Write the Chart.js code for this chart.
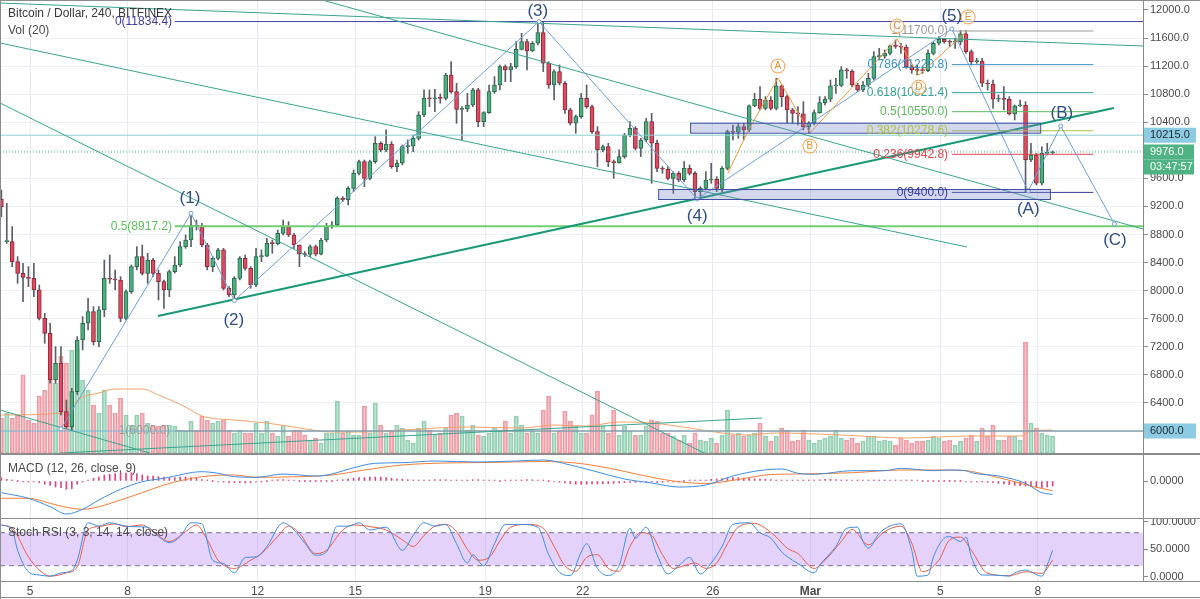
<!DOCTYPE html>
<html lang="en">
<head>
<meta charset="UTF-8">
<title>Bitcoin / Dollar, 240, BITFINEX</title>
<script src="https://cdn.jsdelivr.net/npm/chart.js"></script>
<style>
    html, body { margin: 0; padding: 0; background: #fff; }
    #wrap { position: relative; width: 1200px; height: 599px; overflow: hidden; }
    .pane { position: absolute; left: 0; }
    .sep { position: absolute; left: 0; width: 1200px; background: #8c8c8c; }
</style>
<script>
// ---- candles, 4h, Feb 4 04:00 .. Mar 8 ----
const open = [9300,8698,8698,8413,8247,8190,8176,8010,7606,7392,6727,6965,6276,6062,6561,7297,7535,7701,7273,7725,
8176,8162,8152,7606,7986,8342,8485,8247,8437,8247,8128,8010,8271,8366,8627,8722,8936,8912,8651,8342,
8461,8580,8033,7938,8176,8461,8318,8081,8485,8490,8674,8670,8817,8912,8793,8651,8522,8515,8627,8520,
8722,8912,8936,9316,9292,9458,9672,9838,9601,9838,10100,10005,10090,9767,9815,10052,10060,10171,10503,10741,
10735,10745,10740,11073,10836,10584,10590,10646,10860,10408,10537,10836,10931,11192,11145,11192,11439,11548,11415,11525,
11677,11240,10931,11121,10955,10575,10385,10480,10741,10622,10266,10005,10052,9838,9825,9910,10218,10313,10028,10147,
10408,10100,9743,9730,9601,9672,9577,9743,9672,9411,9458,9577,9585,9458,9743,10266,10260,10337,10290,10632,
10727,10598,10717,10598,10917,10765,10575,10527,10520,10337,10385,10537,10679,10727,10917,10925,11145,11130,10931,10860,
10931,11026,11335,11340,11382,11487,11480,11470,11192,11145,11140,11135,11382,11525,11582,11548,11540,11545,11658,11406,
11263,11270,10955,10945,10727,10730,10725,10518,10632,10640,9862,9933,9530,9957,9965];
const high = [9434,9244,8912,8484,8390,8342,8390,8081,7677,7535,7202,7202,6442,6608,7345,7630,7891,7772,7772,8437,
8508,8294,8200,8010,8366,8627,8651,8532,8461,8294,8152,8294,8485,8698,8793,9102,9007,8960,8674,8485,
8603,8603,8057,8200,8485,8508,8342,8603,8580,8746,8722,8864,9007,8983,8817,8651,8556,8651,8651,8746,
8960,8983,9340,9340,9482,9720,9862,9862,9862,10195,10123,10290,10123,9862,10076,10147,10218,10551,10860,10860,
10869,10803,11097,11263,10955,10622,10812,10883,10883,10551,10931,11050,11216,11216,11240,11548,11667,11582,11548,11810,
11834,11263,11145,11216,10978,10598,10503,10812,10931,10646,10337,10076,10100,9862,10005,10242,10408,10337,10171,10456,
10527,10147,9767,9767,9696,9696,9838,9791,9696,9482,9696,9815,9624,9767,10290,10361,10385,10385,10646,10812,
10907,10765,10765,11026,10931,10788,10598,10622,10693,10408,10575,10765,10765,11002,11026,11192,11168,11145,10955,10978,
11097,11406,11453,11430,11501,11572,11525,11501,11216,11216,11192,11430,11548,11620,11596,11572,11596,11705,11705,11430,
11311,11311,11002,11002,10788,10907,10765,10646,10717,10693,10100,9957,10052,10100,9990];
const low = [9054,8674,8342,8104,7843,8057,7915,7582,7250,6680,6680,6228,6038,6015,6520,7155,7440,7226,7202,7630,
8104,8010,7558,7582,7962,8295,8223,8104,8200,7867,7748,7915,8250,8342,8603,8627,8864,8627,8295,8271,
8437,8010,7915,7843,8152,8294,8033,8057,8413,8485,8532,8651,8793,8770,8603,8342,8485,8485,8494,8508,
8698,8888,8912,9268,9221,9411,9648,9482,9577,9815,9981,9981,9743,9696,9791,9957,9981,10147,10480,10622,
10551,10670,10717,10812,10385,10147,10551,10622,10337,10337,10527,10812,10860,10978,10978,11168,11430,11145,11406,11501,
11121,10883,10717,10931,10527,10361,10242,10456,10598,10242,9767,9981,9767,9601,9815,9886,10195,10005,9910,10123,
9530,9696,9672,9577,9387,9553,9553,9648,9316,9302,9435,9530,9411,9411,9720,10147,10171,10147,10266,10622,
10575,10575,10575,10575,10622,10385,10385,10361,10290,10242,10361,10527,10646,10693,10812,10907,11026,10907,10836,10836,
10907,11002,11287,11311,11358,11453,11382,11168,11097,11073,11097,11121,11358,11501,11525,11477,11453,11501,11382,11216,
11240,10907,10860,10598,10693,10575,10503,10432,10622,9400,9838,9506,9506,9933,9947];
const close = [9197,8698,8413,8247,8190,8176,8010,7606,7392,6727,6965,6276,6062,6561,7297,7535,7701,7273,7725,8176,
8162,8152,7606,7986,8342,8485,8247,8437,8247,8128,8010,8271,8366,8627,8722,8936,8912,8651,8342,8461,
8580,8033,7938,8176,8461,8318,8081,8485,8490,8674,8670,8817,8912,8793,8651,8522,8515,8627,8520,8722,
8912,8936,9316,9292,9458,9672,9838,9601,9838,10100,10005,10090,9767,9815,10052,10060,10171,10503,10741,10735,
10745,10740,11073,10836,10584,10590,10646,10860,10408,10537,10836,10931,11192,11145,11192,11439,11548,11415,11525,11677,
11240,10931,11121,10955,10575,10385,10480,10741,10622,10266,10005,10052,9838,9825,9910,10218,10313,10028,10147,10408,
10100,9743,9730,9601,9672,9577,9743,9672,9411,9458,9577,9585,9458,9743,10266,10260,10337,10290,10632,10727,
10598,10717,10598,10917,10765,10575,10527,10520,10337,10385,10537,10679,10727,10917,10925,11145,11130,10931,10860,10931,
11026,11335,11340,11382,11487,11480,11470,11192,11145,11140,11135,11382,11525,11582,11548,11540,11545,11658,11406,11263,
11270,10955,10945,10727,10730,10725,10518,10632,10640,9862,9933,9530,9957,9965,9976];
const volume = [35,40,35,38,78,33,30,57,63,75,70,97,90,103,105,73,63,48,40,63,
48,40,55,38,28,38,40,30,28,27,28,28,27,23,22,32,23,37,33,30,
32,33,23,20,23,20,20,30,20,32,20,17,28,17,23,23,18,13,15,10,
20,20,52,20,22,18,18,47,20,50,28,20,22,28,25,13,10,25,32,23,
18,20,25,38,40,37,23,28,18,17,20,25,23,32,20,37,28,20,22,20,
43,57,20,23,42,32,27,20,20,38,62,27,20,43,18,27,22,18,18,27,
33,32,20,20,17,13,18,10,20,13,12,15,10,18,43,18,20,17,18,20,
30,17,12,17,25,23,12,13,23,13,10,13,15,17,23,15,13,15,10,12,
17,17,12,13,12,8,15,13,10,12,12,13,17,15,12,13,8,12,15,18,
12,25,17,28,13,13,17,17,13,111,30,25,20,18,17];
// Vol (20) moving average, read at these candles
const volMaIdx = [0,11,15,18,21,26,29,34,37,43,49,55,61,67,74,86,96,102,108,114,120,127,133,138,143,155,167,179,188,190,194];
const volMa    = [38,40,56,60,64,64,58,46,37,33,30,25,21,21,23,26,25,28,27,31,30,25,20,18,20,18,15,17,17,22,23];

// ---- MACD (12, 26, close, 9) ----
const macdIdx  = [0,5,9,12,15,18,22,26,30,37,40,43,47,52,55,58,61,64,69,74,80,88,95,100,105,110,115,120,125,130,135,140,144,147,150,157,163,166,172,175,178,179,184,189,192,194];
const macdLine = [-117,-173,-257,-330,-283,-190,-83,-7,27,93,77,43,37,70,60,50,70,117,177,183,200,190,200,210,160,90,20,-20,-60,-40,50,105,120,77,67,103,103,127,103,110,103,83,50,-23,-117,-133];
const sigIdx   = [0,5,9,12,15,18,22,26,30,37,43,47,55,61,67,74,82,90,100,106,112,118,124,130,136,142,147,157,166,173,178,182,187,190,194];
const sigLine  = [-173,-173,-223,-263,-283,-257,-190,-117,-40,43,60,37,43,60,110,160,180,185,195,180,130,60,0,-25,15,65,70,83,110,110,103,60,-7,-50,-97];
const macdHist = [33,17,7,0,-3,-3,-7,-17,-33,-43,-60,-67,-83,-77,-33,-10,7,27,40,60,
67,73,83,80,83,73,60,50,50,43,40,33,33,40,40,33,27,13,7,0,
-7,-10,-17,-17,-17,-20,-17,-10,-7,0,7,13,13,10,7,0,0,0,0,0,
0,0,7,13,20,27,33,33,40,40,40,33,27,20,20,13,10,7,7,10,
13,13,13,10,7,7,10,13,13,10,7,3,0,3,7,7,10,13,13,10,
7,0,-7,-13,-20,-27,-33,-33,-33,-30,-30,-27,-27,-23,-20,-17,-13,-13,-10,-7,
-10,-13,-13,-10,-7,-3,0,3,3,7,10,17,20,23,30,33,33,30,27,23,
20,17,13,10,7,3,3,5,5,7,10,13,17,17,13,10,7,5,5,3,
3,3,5,5,5,3,3,3,3,3,0,0,0,0,0,0,0,0,-3,-3,
-7,-10,-13,-17,-23,-30,-37,-43,-47,-50,-57,-60,-67,-60,-50];

// ---- Stoch RSI (3, 3, 14, 14, close) ----
const stochKIdx = [0,2,3,5,7,9,11,13,14,16,18,20,22,24,27,29,31,33,35,37,39,41,43,45,47,49,52,54,56,58,60,62,64,66,68,71,
                   74,76,78,80,82,84,86,87,89,91,93,96,99,101,103,105,107,108,110,112,114,116,117,119,121,123,125,127,129,131,133,135,138,140,142,144,146,
                   147,150,151,154,156,158,159,160,162,164,166,168,169,171,172,174,175,177,178,179,181,183,186,187,189,192,193,194];
const stochK    = [94,85,48,9,3,1,7,11,30,98,92,98,94,91,90,73,62,73,98,96,30,24,7,35,36,55,98,85,61,39,45,92,92,98,85,90,
                   48,75,98,92,95,60,25,40,20,60,95,95,90,40,8,2,45,60,15,2,20,88,70,90,40,5,20,35,5,25,55,95,98,80,70,45,30,
                   24,7,21,55,88,90,64,52,79,92,96,48,1,3,36,70,73,64,72,36,3,3,1,7,12,1,21,48];
const stochDIdx = [0,2,5,7,9,12,14,16,18,21,23,26,28,31,34,36,38,40,43,46,48,51,53,55,58,60,63,65,68,71,
                   74,76,78,80,82,84,86,88,90,92,94,97,100,102,104,106,108,110,112,114,116,118,120,122,124,126,128,130,132,134,136,139,141,143,145,
                   147,150,152,155,157,160,163,166,168,170,173,175,177,179,182,186,189,192,194];
const stochD    = [94,88,36,12,1,7,18,85,91,96,91,94,82,64,82,94,67,30,15,30,42,73,92,79,42,48,85,94,91,85,
                   67,55,75,92,95,82,50,30,35,65,90,95,88,55,20,10,35,40,15,10,55,80,75,40,15,20,25,15,25,60,90,97,88,72,52,
                   42,15,30,64,86,58,82,92,61,9,30,67,72,48,6,2,9,6,30];

// ---- time axis ----
const dayTickIdx    = [5.29,23.29,47.29,65.29,89.29,107.29,131.29,149.29,173.29,191.29];
const dayTickLabels = ['5','8','12','15','19','22','26','Mar','5','8'];
const priceTicks = [6000,6400,6800,7200,7600,8000,8400,8800,9200,9600,10000,10400,10800,11200,11600,12000];

// ---- drawings (candle index, price) ----
const waveIdx   = [11,35,43,99.2,128.4,175.4,189.5,195.5,205.4];
const wavePrice = [6030,9102,7860,11834,9306,11729,9420,10346,8950];
const waveNames = ['(1)','(2)','(3)','(4)','(5)','(A)','(B)','(C)'];
const waveLabelIdx   = [34.8,42.9,99.0,128.4,175.4,189.5,195.7,205.5];
const waveLabelPrice = [9320,7582,11985,9064,11914,9164,10532,8722];
const subIdx   = [134.1,137.6,143.3,149.2,165.3,169.3,178.2];
const subPrice = [9677,10247,11030,10247,11586,11073,11700];
const subNames = ['A','B','C','D','E'];
const subLabelIdx   = [143.3,149.2,165.3,169.3,178.4];
const subLabelPrice = [11201,10061,11771,10900,11900];
// teal trend lines: [idx1, price1, idx2, price2]
const trendLines = [[-0.25,12099,210.7,11486],[59.2,12142,210.7,8878],[-0.25,11529,178.2,8622],
                    [-0.25,10674,130.8,5644],[-0.25,6299,27.4,5686],[10.8,5686,140.4,6185]];
const supportLine = [28.9,7639,205.3,10603];
const fibLevels = ['1','0.786','0.618','0.5','0.382','0.236','0'];
const fibPrices = [11700,11220.8,10821.4,10550,10278.6,9942.8,9400];
const fibColors = ['#9a9a9a','#3d93c6','#35a395','#5cb85c','#aec23f','#e0434f','#3b3b9f'];
const zones = [[127.1,191.7,10393,10251],[121.2,193.5,9448,9306]];
const lastPrice = 9976, markedLevel = 10215;

// ---- layout ----
const step = 5.419;            // px per candle
const xMin = -0.25, xMax = xMin + 1143 / step;
const AXIS_W = 57;

const upFill = '#4fae80', upLine = '#276b4b', dnFill = '#df4a5f', dnLine = '#88283a', wick = '#5b5e66';
const FONT = '"Liberation Sans", Arial, sans-serif';

function seg(a, color, width, dash) {
    return { type: 'line', data: [{x: a[0], y: a[1]}, {x: a[2], y: a[3]}], borderColor: color,
             borderWidth: width || 1, borderDash: dash || [], pointRadius: 0, fill: false, tension: 0 };
}
function pts(xs, ys) { return xs.map((x, i) => ({x: x, y: ys[i]})); }
function noPad(s) { s.paddingTop = 0; s.paddingBottom = 0; s.paddingLeft = 0; s.paddingRight = 0; }
function xAxis(showLabels) {
    return {
        type: 'linear', min: xMin, max: xMax, offset: false,
        grid: { color: '#e6ecf1', drawTicks: false, offset: false },
        border: { display: false },
        afterBuildTicks: s => { s.ticks = dayTickIdx.map(v => ({value: v})); },
        ticks: showLabels ? {
            padding: 3, color: '#4a4a4a', maxRotation: 0, autoSkip: false,
            font: c => ({ family: FONT, size: 12, weight: (c.tick && c.tick.label === 'Mar') ? 'bold' : 'normal' }),
            callback: (v, i) => dayTickLabels[i]
        } : { display: false },
        afterFit: s => { s.height = showLabels ? 18 : 0; noPad(s); }
    };
}
function yAxis(min, max, ticks, fmt, gridColor) {
    return {
        position: 'right', min: min, max: max,
        afterBuildTicks: s => { s.ticks = ticks.map(v => ({value: v})); },
        afterFit: s => { s.width = AXIS_W; noPad(s); },
        grid: { color: gridColor || 'transparent', tickColor: '#8a8a8a', tickLength: 5 },
        border: { display: true, color: '#8a8a8a' },
        ticks: { padding: 2, color: '#4a4a4a', font: { family: FONT, size: 11 }, callback: fmt }
    };
}
function text(ctx, s, x, y, color, font, align) {
    ctx.font = font; ctx.fillStyle = color; ctx.textAlign = align || 'center'; ctx.textBaseline = 'middle';
    ctx.fillText(s, x, y);
}

const mainOverlay = {
    id: 'mainOverlay',
    afterDatasetsDraw(chart) {
        const ctx = chart.ctx, X = chart.scales.x, Y = chart.scales.y;
        ctx.save();
        // zones
        zones.forEach(z => {
            const x1 = X.getPixelForValue(z[0]), x2 = X.getPixelForValue(z[1]);
            const y1 = Y.getPixelForValue(z[2]), y2 = Y.getPixelForValue(z[3]);
            ctx.fillStyle = 'rgba(120,134,200,0.32)'; ctx.fillRect(x1, y1, x2 - x1, y2 - y1);
            ctx.strokeStyle = '#3f4fa0'; ctx.lineWidth = 1; ctx.strokeRect(x1 + 0.5, y1 + 0.5, x2 - x1, y2 - y1);
        });
        // fib labels
        const fx = X.getPixelForValue(174.7);
        fibLevels.forEach((l, i) => text(ctx, l + '(' + fibPrices[i].toFixed(1) + ')', fx, Y.getPixelForValue(fibPrices[i]), fibColors[i], '12px ' + FONT, 'right'));
        const lx = X.getPixelForValue(31.5);
        text(ctx, '0(11834.4)', lx, Y.getPixelForValue(11834.4), '#3c3ca6', '12px ' + FONT, 'right');
        text(ctx, '0.5(8917.2)', lx, Y.getPixelForValue(8917.2), '#5cc25c', '12px ' + FONT, 'right');
        text(ctx, '1(6000.0)', lx - 2, Y.getPixelForValue(6000), '#9a9a9a', '12px ' + FONT, 'right');
        // wave labels
        waveNames.forEach((n, i) => text(ctx, n, X.getPixelForValue(waveLabelIdx[i]), Y.getPixelForValue(waveLabelPrice[i]), '#2f4d80', '17px ' + FONT));
        subNames.forEach((n, i) => {
            const x = X.getPixelForValue(subLabelIdx[i]), y = Y.getPixelForValue(subLabelPrice[i]);
            ctx.beginPath(); ctx.arc(x, y, 7, 0, Math.PI * 2);
            ctx.fillStyle = 'rgba(255,255,255,0.6)'; ctx.fill();
            ctx.strokeStyle = '#ef9a3c'; ctx.lineWidth = 1; ctx.stroke();
            text(ctx, n, x, y + 0.5, '#e8902c', '10px ' + FONT);
        });
        // titles
        text(ctx, 'Bitcoin / Dollar, 240, BITFINEX', 8, 14, '#3a3a3a', '12px ' + FONT, 'left');
        text(ctx, 'Vol (20)', 8, 31, '#4a4a4a', '12px ' + FONT, 'left');
        ctx.restore();
    },
    afterDraw(chart) {
        const ctx = chart.ctx, Y = chart.scales.y, x0 = chart.chartArea.right + 1;
        ctx.save();
        const box = (yc, s, bg, fg, w) => {
            ctx.fillStyle = bg; ctx.fillRect(x0, yc - 7.5, w, 15);
            text(ctx, s, x0 + 6, yc, fg, '11px ' + FONT, 'left');
        };
        const yl = Y.getPixelForValue(lastPrice);
        box(Y.getPixelForValue(markedLevel), markedLevel.toFixed(1), '#8dcbe2', '#1d2a33', 52);
        box(yl, lastPrice.toFixed(1), '#4fb383', '#ffffff', 50);
        box(yl + 15, '03:47:57', '#4fb383', '#ffffff', 50);
        box(Y.getPixelForValue(6000), '6000.0', '#8dcbe2', '#1d2a33', 52);
        ctx.restore();
    }
};

function paneTitle(label) {
    return { id: 'title_' + label.length, afterDatasetsDraw(chart) {
        chart.ctx.save(); text(chart.ctx, label, 8, 14, '#4a4a4a', '12px ' + FONT, 'left'); chart.ctx.restore();
    } };
}

window.onload = function () {
    Chart.defaults.animation = false;
    Chart.defaults.font.family = FONT;
    const idx = open.map((_, i) => i);
    const up = i => close[i] >= open[i];

    const main = [];
    // drawings on top
    main.push({ type: 'line', data: pts(subIdx, subPrice), borderColor: '#ef9a3c', borderWidth: 1, pointRadius: 0, tension: 0, fill: false });
    main.push({ type: 'line', data: pts(waveIdx, wavePrice), borderColor: '#6d9fd6', borderWidth: 1, tension: 0, fill: false,
                pointRadius: 2, pointBackgroundColor: '#fff', pointBorderColor: '#6d9fd6', pointBorderWidth: 1 });
    fibPrices.forEach((p, i) => main.push(seg([175.4, p, 201.5, p], fibColors[i])));
    main.push(seg(supportLine, '#179877', 2));
    trendLines.forEach(t => main.push(seg(t, '#3ba48e')));
    main.push(seg([32.0, 11834.4, xMax, 11834.4], '#4040a8'));
    main.push(seg([32.0, 8917.2, xMax, 8917.2], '#72cf72', 2));
    main.push(seg([32.0, 6000, xMax, 6000], '#8c9196'));
    main.push(seg([xMin, 6000, xMax, 6000], '#73bcd8'));
    main.push(seg([xMin, markedLevel, xMax, markedLevel], '#8ad0cc'));
    main.push(seg([xMin, lastPrice, xMax, lastPrice], '#4caf80', 1, [1, 2]));
    // candles
    main.push({ type: 'bar', grouped: false, data: idx.map(i => ({x: i, y: [open[i], close[i]]})), barThickness: 4, minBarLength: 1,
                backgroundColor: c => up(c.dataIndex) ? upFill : dnFill, borderColor: c => up(c.dataIndex) ? upLine : dnLine,
                borderWidth: 1, borderSkipped: false });
    main.push({ type: 'bar', grouped: false, data: idx.map(i => ({x: i, y: [low[i], high[i]]})), barThickness: 1,
                backgroundColor: wick, borderWidth: 0 });
    // volume
    main.push({ type: 'line', yAxisID: 'yv', data: pts(volMaIdx, volMa), borderColor: '#f5a26a', borderWidth: 1, pointRadius: 0, cubicInterpolationMode: 'monotone' });
    main.push({ type: 'bar', yAxisID: 'yv', grouped: false, data: idx.map(i => ({x: i, y: volume[i]})), barThickness: 4.4,
                backgroundColor: c => up(c.dataIndex) ? 'rgba(130,205,170,0.55)' : 'rgba(240,140,152,0.55)',
                borderColor: c => up(c.dataIndex) ? 'rgba(90,175,135,0.6)' : 'rgba(225,100,115,0.6)', borderWidth: 1, borderSkipped: false });

    const common = { responsive: false, animation: false, devicePixelRatio: 1, layout: { padding: 0, autoPadding: false },
                     plugins: { legend: { display: false }, tooltip: { enabled: false } }, events: [] };

    new Chart(document.getElementById('c1'), {
        type: 'line', data: { datasets: main },
        options: Object.assign({}, common, {
            scales: { x: xAxis(false),
                      y: yAxis(5686.5, 12141.75, priceTicks, v => v.toFixed(1), '#edf1f5'),
                      yv: { display: false, min: 0, max: 453 } }
        }),
        plugins: [mainOverlay]
    });

    new Chart(document.getElementById('c2'), {
        type: 'line',
        data: { datasets: [
            { data: pts(macdIdx, macdLine), borderColor: '#3d8de0', borderWidth: 1, pointRadius: 0, cubicInterpolationMode: 'monotone' },
            { data: pts(sigIdx, sigLine), borderColor: '#f57d35', borderWidth: 1, pointRadius: 0, cubicInterpolationMode: 'monotone' },
            { type: 'bar', data: idx.map(i => ({x: i, y: macdHist[i]})), barThickness: 1, minBarLength: 1, backgroundColor: '#e0457f' }
        ] },
        options: Object.assign({}, common, {
            scales: { x: xAxis(false), y: yAxis(-370, 260, [0], v => v.toFixed(4)) }
        }),
        plugins: [paneTitle('MACD (12, 26, close, 9)')]
    });

    new Chart(document.getElementById('c3'), {
        type: 'line',
        data: { datasets: [
            { data: pts(stochKIdx, stochK), borderColor: '#3d8de0', borderWidth: 1, pointRadius: 0, cubicInterpolationMode: 'monotone' },
            { data: pts(stochDIdx, stochD), borderColor: '#ea5a44', borderWidth: 1, pointRadius: 0, cubicInterpolationMode: 'monotone' },
            { data: [{x: xMin, y: 80}, {x: xMax, y: 80}], borderColor: '#7d7088', borderWidth: 1, borderDash: [5, 4], pointRadius: 0 },
            { data: [{x: xMin, y: 20}, {x: xMax, y: 20}], borderColor: '#7d7088', borderWidth: 1, borderDash: [5, 4], pointRadius: 0,
              fill: '-1', backgroundColor: 'rgba(160,90,240,0.27)' }
        ] },
        options: Object.assign({}, common, {
            scales: { x: xAxis(true), y: yAxis(-7.8, 104.9, [0, 50, 100], v => v.toFixed(4)) }
        }),
        plugins: [paneTitle('Stoch RSI (3, 3, 14, 14, close)')]
    });
};
</script>
</head>
<body>
<div id="wrap">
    <canvas id="c1" class="pane" width="1200" height="453" style="top:0"></canvas>
    <div class="sep" style="top:453px;height:2px"></div>
    <canvas id="c2" class="pane" width="1200" height="63" style="top:455px"></canvas>
    <div class="sep" style="top:518px;height:1px"></div>
    <canvas id="c3" class="pane" width="1200" height="80" style="top:519px"></canvas>
    <div class="sep" style="top:581px;height:1px"></div>
    <div class="sep" style="top:597px;height:1px"></div>
    <div class="sep" style="top:0;height:1px"></div>
    <div class="sep" style="top:0;left:0;width:1px;height:599px"></div>
</div>
</body>
</html>
